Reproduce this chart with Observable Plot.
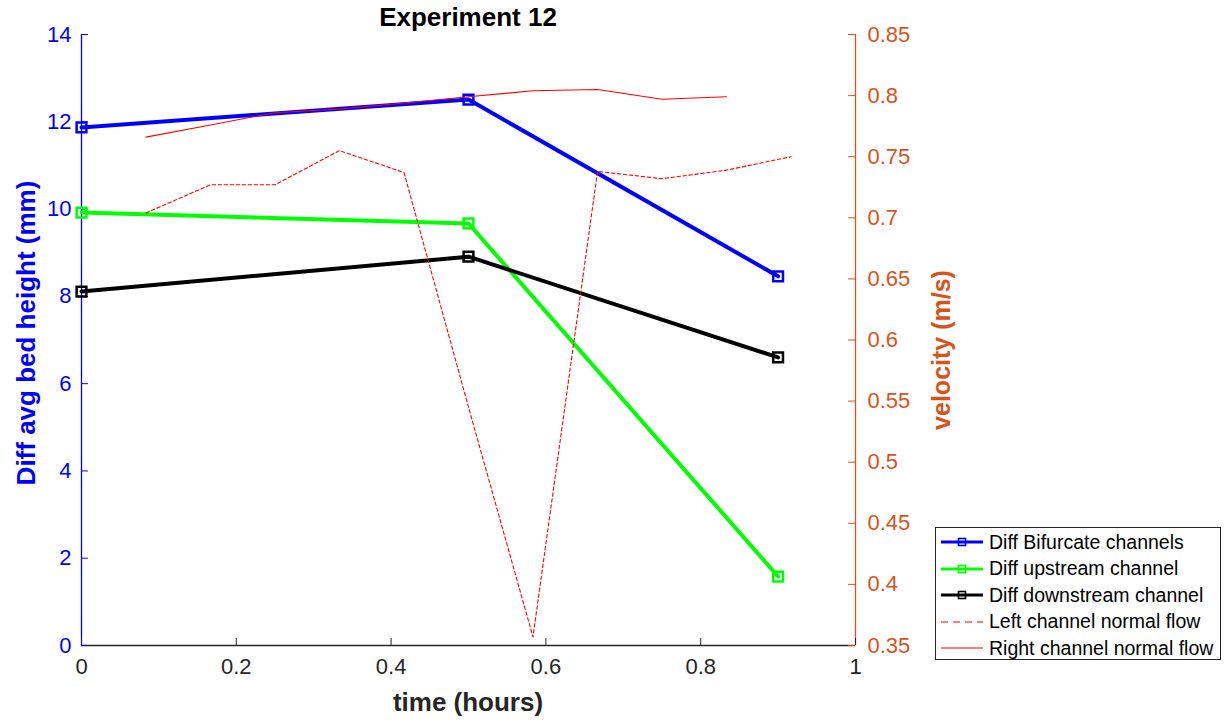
<!DOCTYPE html>
<html><head><meta charset="utf-8">
<script src="https://cdn.jsdelivr.net/npm/d3@7"></script>
<script src="https://cdn.jsdelivr.net/npm/@observablehq/plot@0.6"></script>
<style>
body{margin:0;background:#fff;font-family:"Liberation Sans",Arial,Helvetica,sans-serif;}
#wrap{position:relative;width:1232px;height:723px;overflow:hidden;background:#fff}
.abs{position:absolute;white-space:nowrap;line-height:1}
.rot{transform:translate(-50%,-50%) rotate(-90deg)}
#legend{position:absolute;left:935px;top:527px;width:286px;height:133px;border:1px solid #262626;background:#fff;box-sizing:border-box}
.row{position:absolute;left:4px;height:26px;display:flex;align-items:center;font-size:19.5px;color:#000;white-space:nowrap}
.row svg{margin-right:5px}
</style></head>
<body><div id="wrap"></div>
<script>
// ---- data ----
const hours = [0, 0.5, 0.9];
const bifurcate = [11.87, 12.51, 8.46];
const upstream = [9.92, 9.67, 1.58];
const downstream = [8.11, 8.91, 6.60];

const flowTimesLeft = [0.0833, 0.1667, 0.25, 0.3333, 0.4167, 0.5, 0.5833, 0.6667, 0.75, 0.8333, 0.9167];
const leftFlow = [0.704, 0.727, 0.727, 0.755, 0.737, 0.545, 0.357, 0.738, 0.732, 0.739, 0.750];
const flowTimesRight = [0.0833, 0.1667, 0.25, 0.3333, 0.4167, 0.5, 0.5833, 0.6667, 0.75, 0.8333];
const rightFlow = [0.766, 0.776, 0.786, 0.789, 0.794, 0.799, 0.804, 0.805, 0.797, 0.799];

const xTicks = [0, 0.2, 0.4, 0.6, 0.8, 1];
const leftTicks = [0, 2, 4, 6, 8, 10, 12, 14];
const velTicks = [0.35, 0.4, 0.45, 0.5, 0.55, 0.6, 0.65, 0.7, 0.75, 0.8, 0.85];

const seriesNames = ["Diff Bifurcate channels", "Diff upstream channel", "Diff downstream channel", "Left channel normal flow", "Right channel normal flow"];
const seriesColors = ["#0000ff", "#00ff00", "#000000", "#ff0000", "#ff0000"];

// ---- scales mapping ----
const vMin = 0.35, vMax = 0.85, yMax = 14;
const toLeft = v => (v - vMin) / (vMax - vMin) * yMax;
const fromLeft = y => vMin + y / yMax * (vMax - vMin);

const ORANGE = "#D95319", AX = "#262626";
const table = (xs, ys) => xs.map((x, i) => ({x, y: ys[i]}));
const bif = table(hours, bifurcate), up = table(hours, upstream), down = table(hours, downstream);
const lf = table(flowTimesLeft, leftFlow.map(toLeft));
const rf = table(flowTimesRight, rightFlow.map(toLeft));

const tickLenX = 0.009, tickLenY = 0.16;

const chart = Plot.plot({
  width: 1232, height: 723,
  marginLeft: 81, marginRight: 377, marginTop: 34, marginBottom: 78,
  x: {domain: [0, 1]},
  y: {domain: [0, yMax]},
  style: {fontFamily: "'Liberation Sans', Arial, Helvetica, sans-serif", fontSize: "22px", background: "transparent", overflow: "visible"},
  marks: [
    Plot.axisX({ticks: xTicks, tickSize: 0, tickPadding: 13, tickFormat: d => String(d), color: AX, label: null}),
    Plot.axisY({ticks: leftTicks, tickSize: 0, tickPadding: 10, tickFormat: d => String(d), color: "#0000ff", label: null}),
    Plot.axisY({anchor: "right", ticks: velTicks.map(toLeft), tickSize: 0, tickPadding: 12,
      tickFormat: d => String(+fromLeft(d).toFixed(2)), color: ORANGE, label: null}),
    // axis lines
    Plot.ruleY([0], {stroke: AX, strokeWidth: 1.3}),
    Plot.ruleX([0], {stroke: "#0000ff", strokeWidth: 1.3}),
    Plot.ruleX([1], {stroke: ORANGE, strokeWidth: 1.3}),
    // inward ticks
    Plot.ruleX(xTicks, {y1: 0, y2: tickLenY, stroke: AX, strokeWidth: 1}),
    Plot.ruleY(leftTicks, {x1: 0, x2: tickLenX, stroke: "#0000ff", strokeWidth: 1}),
    Plot.ruleY(velTicks.map(toLeft), {x1: 1 - tickLenX, x2: 1, stroke: ORANGE, strokeWidth: 1}),
    // left-axis series
    Plot.line(bif, {x: "x", y: "y", stroke: seriesColors[0], strokeWidth: 4}),
    Plot.dot(bif, {x: "x", y: "y", symbol: "square", r: 5.5, stroke: seriesColors[0], fill: "none", strokeWidth: 2.5}),
    Plot.line(up, {x: "x", y: "y", stroke: seriesColors[1], strokeWidth: 4}),
    Plot.dot(up, {x: "x", y: "y", symbol: "square", r: 5.5, stroke: seriesColors[1], fill: "none", strokeWidth: 2.5}),
    Plot.line(down, {x: "x", y: "y", stroke: seriesColors[2], strokeWidth: 4}),
    Plot.dot(down, {x: "x", y: "y", symbol: "square", r: 5.5, stroke: seriesColors[2], fill: "none", strokeWidth: 2.5}),
    // right-axis series
    Plot.line(lf, {x: "x", y: "y", stroke: seriesColors[3], strokeWidth: 1.1, strokeDasharray: "3.5,2.5"}),
    Plot.line(rf, {x: "x", y: "y", stroke: seriesColors[4], strokeWidth: 1.1})
  ]
});
const wrap = document.getElementById("wrap");
chart.style.position = "absolute"; chart.style.left = "0"; chart.style.top = "0";
wrap.appendChild(chart);

function addText(txt, css) {
  const d = document.createElement("div");
  d.className = "abs" + (css.rot ? " rot" : "");
  d.textContent = txt;
  Object.assign(d.style, css.style);
  wrap.appendChild(d);
}
addText("Experiment 12", {style: {left: "468px", top: "4px", transform: "translateX(-50%)", fontSize: "26px", fontWeight: "bold", color: "#000"}});
addText("time (hours)", {style: {left: "468px", top: "689px", transform: "translateX(-50%)", fontSize: "26px", fontWeight: "bold", color: AX}});
addText("Diff avg bed height (mm)", {rot: true, style: {left: "26px", top: "333px", fontSize: "26px", fontWeight: "bold", color: "#0000ff"}});
addText("velocity (m/s)", {rot: true, style: {left: "941px", top: "350px", fontSize: "25px", fontWeight: "bold", color: ORANGE}});

// legend
const lg = document.createElement("div");
lg.id = "legend";
seriesNames.forEach((name, i) => {
  const row = document.createElement("div");
  row.className = "row";
  row.style.top = (1 + i * 26.6) + "px";
  const ns = "http://www.w3.org/2000/svg";
  const s = document.createElementNS(ns, "svg");
  s.setAttribute("width", "44"); s.setAttribute("height", "14");
  const l = document.createElementNS(ns, "line");
  l.setAttribute("x1", "1"); l.setAttribute("x2", "43"); l.setAttribute("y1", "7"); l.setAttribute("y2", "7");
  l.setAttribute("stroke", seriesColors[i]);
  l.setAttribute("stroke-width", i < 3 ? "3" : "1.1");
  if (i === 3) l.setAttribute("stroke-dasharray", "7,5");
  s.appendChild(l);
  if (i < 3) {
    const r = document.createElementNS(ns, "rect");
    r.setAttribute("x", "18.5"); r.setAttribute("y", "3.5"); r.setAttribute("width", "7"); r.setAttribute("height", "7");
    r.setAttribute("fill", "none"); r.setAttribute("stroke", seriesColors[i]); r.setAttribute("stroke-width", "1.6");
    s.appendChild(r);
  }
  row.appendChild(s);
  const t = document.createElement("span");
  t.textContent = name;
  row.appendChild(t);
  lg.appendChild(row);
});
wrap.appendChild(lg);
</script></body></html>
